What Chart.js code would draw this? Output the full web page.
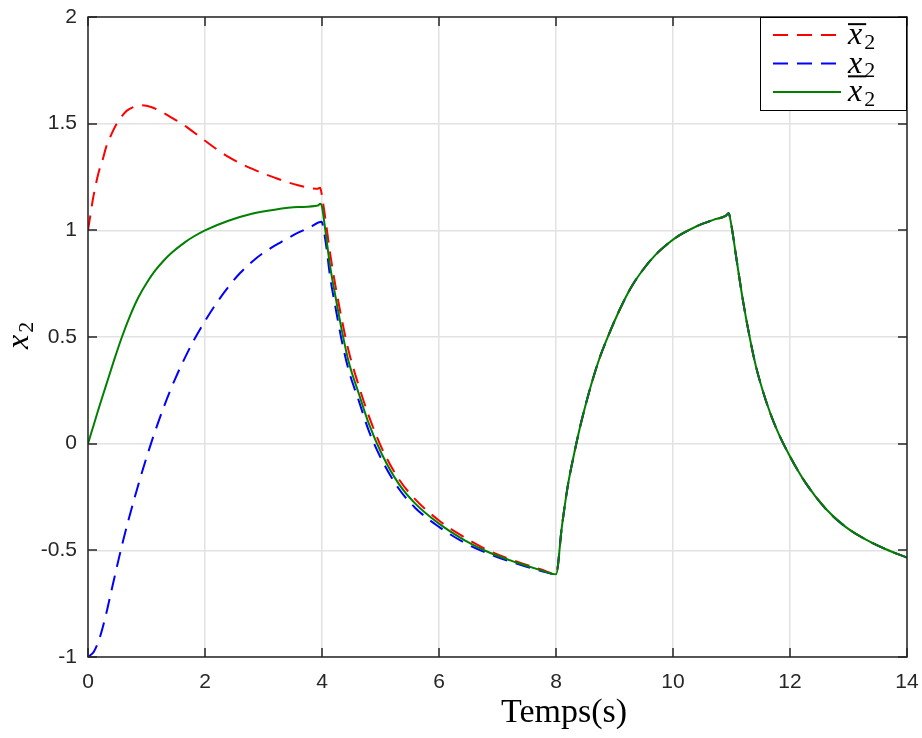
<!DOCTYPE html>
<html>
<head>
<meta charset="utf-8">
<script src="https://cdn.jsdelivr.net/npm/chart.js@4.4.1/dist/chart.umd.min.js"></script>
<style>
  html, body { margin: 0; padding: 0; background: #fff; }
  #wrap { width: 922px; height: 738px; }
</style>
</head>
<body>
<div id="wrap"><canvas id="x2Chart" width="922" height="738"></canvas></div>
<script>
// upper bound estimate, 0..8 s
const tUpper = [0, 0.04, 0.08, 0.13, 0.18, 0.25, 0.31, 0.4, 0.49, 0.58, 0.66, 0.78, 0.92, 1.08, 1.26, 1.45, 1.66, 2.0, 2.4, 2.8, 3.19, 3.59, 3.93, 3.97,
  4.0, 4.06, 4.14, 4.23, 4.34, 4.45, 4.63, 4.8, 5.02, 5.31, 5.59, 6.0, 6.44, 6.84, 7.3, 7.75];
const upper = [1.0, 1.07, 1.14, 1.21, 1.27, 1.33, 1.39, 1.45, 1.5, 1.535, 1.56, 1.578, 1.586, 1.578, 1.555, 1.525, 1.49, 1.42, 1.344, 1.289, 1.247, 1.211, 1.195, 1.2,
  1.16, 1.05, 0.89, 0.74, 0.58, 0.44, 0.27, 0.13, -0.02, -0.165, -0.26, -0.36, -0.44, -0.5, -0.55, -0.59];

// lower bound estimate, 0..8 s
const tLower = [0, 0.1, 0.2, 0.3, 0.4, 0.5, 0.6, 0.7, 0.8, 0.9, 1.0, 1.1, 1.2, 1.3, 1.4, 1.5, 1.6, 1.8, 2.0, 2.2, 2.4, 2.6, 2.8, 3.0, 3.3, 3.6, 3.8, 3.99,
  4.06, 4.14, 4.23, 4.34, 4.45, 4.63, 4.8, 5.02, 5.31, 5.59, 6.0, 6.44, 6.84, 7.3, 7.75];
const lower = [-1.0, -0.975, -0.91, -0.81, -0.69, -0.57, -0.455, -0.35, -0.25, -0.155, -0.065, 0.02, 0.1, 0.175, 0.245, 0.31, 0.37, 0.48, 0.575, 0.66, 0.735, 0.8, 0.852, 0.895, 0.945, 0.99, 1.015, 1.04,
  0.95, 0.78, 0.64, 0.48, 0.35, 0.2, 0.06, -0.075, -0.21, -0.3, -0.39, -0.465, -0.515, -0.56, -0.597];

// real state, 0..8 s
const tState = [0, 0.1, 0.2, 0.3, 0.45, 0.58, 0.72, 0.86, 1.0, 1.15, 1.3, 1.43, 1.66, 1.8, 2.0, 2.4, 2.8, 3.19, 3.59, 3.93, 3.97,
  4.0, 4.057, 4.14, 4.23, 4.34, 4.45, 4.63, 4.8, 5.02, 5.31, 5.59, 6.0, 6.44, 6.84, 7.3, 7.75];
const state = [0, 0.09, 0.18, 0.266, 0.395, 0.5, 0.6, 0.685, 0.752, 0.812, 0.86, 0.895, 0.945, 0.97, 1.0, 1.045, 1.078, 1.097, 1.109, 1.116, 1.125,
  1.11, 1.0, 0.83, 0.69, 0.53, 0.39, 0.234, 0.094, -0.047, -0.1875, -0.28, -0.375, -0.453, -0.508, -0.555, -0.594];

// after 8 s the three curves coincide
const tTail = [8.0, 8.1, 8.2, 8.3, 8.4, 8.5, 8.6, 8.75, 8.9, 9.1, 9.3, 9.5, 9.7, 9.9, 10.1, 10.3, 10.5, 10.7, 10.9, 10.95,
  11.0, 11.08, 11.19, 11.31, 11.42, 11.59, 11.76, 12.0, 12.27, 12.61, 12.95, 13.3, 13.64, 14.0];
const tail = [-0.6125, -0.39, -0.2, -0.06, 0.065, 0.175, 0.275, 0.405, 0.51, 0.635, 0.74, 0.82, 0.885, 0.935, 0.975, 1.005, 1.03, 1.05, 1.068, 1.08,
  1.02, 0.875, 0.68, 0.5, 0.36, 0.2, 0.075, -0.06, -0.185, -0.305, -0.39, -0.45, -0.495, -0.534];

const xTicks = [0, 2, 4, 6, 8, 10, 12, 14];
const yTicks = [-1, -0.5, 0, 0.5, 1, 1.5, 2];
const xTitle = "Temps(s)";

function toPoints(ts, vs) {
  return ts.map((t, i) => ({ x: t, y: vs[i] }));
}

// x with a subscript 2, optionally with a bar over or under the x
function drawX2(ctx, x, y, size, deco) {
  ctx.fillStyle = "#000";
  ctx.textAlign = "left";
  ctx.textBaseline = "alphabetic";
  ctx.font = "italic " + size + "px 'Liberation Serif'";
  ctx.fillText("x", x, y);
  const w = ctx.measureText("x").width;
  ctx.font = Math.round(size * 0.7) + "px 'Liberation Serif'";
  ctx.fillText("2", x + w + 2, y + size * 0.15);
  if (deco) {
    ctx.strokeStyle = "#000";
    ctx.lineWidth = 2;
    ctx.setLineDash([]);
    ctx.beginPath();
    const by = deco === "over" ? y - size * 0.62 : y + size * 0.12;
    ctx.moveTo(x, by);
    ctx.lineTo(x + w + 4, by);
    ctx.stroke();
  }
}

const frame = {
  id: "frame",
  afterDraw(chart) {
    const { ctx, chartArea: a, scales } = chart;
    ctx.save();
    // axes box with inward ticks on all four sides
    ctx.strokeStyle = "#262626";
    ctx.lineWidth = 1.5;
    ctx.setLineDash([]);
    ctx.strokeRect(a.left, a.top, a.right - a.left, a.bottom - a.top);
    ctx.beginPath();
    xTicks.forEach(t => {
      const px = Math.round(scales.x.getPixelForValue(t));
      ctx.moveTo(px, a.bottom); ctx.lineTo(px, a.bottom - 9);
      ctx.moveTo(px, a.top); ctx.lineTo(px, a.top + 9);
    });
    yTicks.forEach(v => {
      const py = Math.round(scales.y.getPixelForValue(v));
      ctx.moveTo(a.left, py); ctx.lineTo(a.left + 9, py);
      ctx.moveTo(a.right, py); ctx.lineTo(a.right - 9, py);
    });
    ctx.stroke();

    // legend
    const lx = 760, ly = a.top, lw = a.right - 760, lh = 94;
    ctx.fillStyle = "#fff";
    ctx.fillRect(lx, ly, lw, lh);
    ctx.strokeStyle = "#000";
    ctx.lineWidth = 1;
    ctx.strokeRect(lx + 0.5, ly + 0.5, lw - 1, lh - 1);
    const decos = ["over", "under", null];
    chart.data.datasets.forEach((ds, i) => {
      const y = ly + 18 + i * 28.5;
      ctx.strokeStyle = ds.borderColor;
      ctx.lineWidth = 2;
      ctx.setLineDash(ds.borderDash || []);
      ctx.beginPath();
      ctx.moveTo(773, y);
      ctx.lineTo(841, y);
      ctx.stroke();
      ctx.setLineDash([]);
      drawX2(ctx, 848, y + 9, 32, decos[i]);
    });

    // axis labels
    ctx.fillStyle = "#000";
    ctx.font = "34px 'Liberation Serif'";
    ctx.textAlign = "center";
    ctx.textBaseline = "alphabetic";
    ctx.fillText(xTitle, 564, 722);

    ctx.translate(28, 337);
    ctx.rotate(-Math.PI / 2);
    drawX2(ctx, -12, 0, 32, null);
    ctx.restore();
  }
};

new Chart(document.getElementById("x2Chart"), {
  type: "line",
  data: {
    datasets: [
      {
        label: "upper",
        data: toPoints(tUpper.concat(tTail), upper.concat(tail)),
        borderColor: "#ff0000",
        borderDash: [15, 9],
        order: 2,
      },
      {
        label: "lower",
        data: toPoints(tLower.concat(tTail), lower.concat(tail)),
        borderColor: "#0000ff",
        borderDash: [15, 9],
        order: 1,
      },
      {
        label: "state",
        data: toPoints(tState.concat(tTail), state.concat(tail)),
        borderColor: "#008000",
        order: 0,
      },
    ],
  },
  options: {
    responsive: false,
    devicePixelRatio: 1,
    animation: false,
    layout: { padding: { top: 17, right: 15, left: 0, bottom: 0 } },
    elements: {
      point: { radius: 0 },
      line: { borderWidth: 2, cubicInterpolationMode: "monotone", fill: false },
    },
    plugins: {
      legend: { display: false },
      tooltip: { enabled: false },
    },
    scales: {
      x: {
        type: "linear",
        min: 0,
        max: 14,
        afterBuildTicks: s => { s.ticks = xTicks.map(v => ({ value: v })); },
        afterFit: s => { s.height = 81; s.paddingLeft = 0; s.paddingRight = 0; },
        grid: { color: "#e2e2e2", lineWidth: 1.5, drawTicks: false },
        border: { display: false },
        ticks: {
          padding: 13,
          color: "#262626",
          font: { family: "'Liberation Sans'", size: 21 },
          maxRotation: 0,
          callback: v => String(v),
        },
      },
      y: {
        min: -1,
        max: 2,
        afterBuildTicks: s => { s.ticks = yTicks.map(v => ({ value: v })); },
        afterFit: s => { s.width = 88; s.paddingTop = 0; s.paddingBottom = 0; },
        grid: { color: "#e2e2e2", lineWidth: 1.5, drawTicks: false },
        border: { display: false },
        ticks: {
          padding: 11,
          color: "#262626",
          font: { family: "'Liberation Sans'", size: 21 },
          callback: v => String(v),
        },
      },
    },
  },
  plugins: [frame],
});
</script>
</body>
</html>
